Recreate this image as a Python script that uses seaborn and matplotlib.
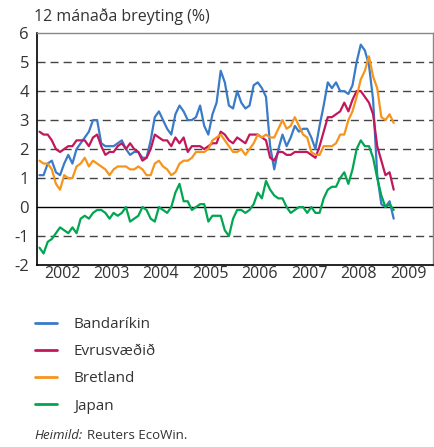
import numpy as np
import pandas as pd
import matplotlib
matplotlib.use("Agg")
import matplotlib.pyplot as plt
import seaborn as sns

# 12 mánaða breyting verðlags, jan 2002 - mars 2009 (lesið af mynd)
bandarikin = [1.1, 1.1, 1.5, 1.6, 1.2, 1.1, 1.5, 1.8, 1.5, 2.0, 2.2, 2.4,
              2.6, 3.0, 3.0, 2.2, 2.1, 2.1, 2.1, 2.2, 2.3, 2.0, 1.8, 1.9,
              1.9, 1.7, 1.7, 2.3, 3.1, 3.3, 3.0, 2.7, 2.5, 3.2, 3.5, 3.3,
              3.0, 3.0, 3.1, 3.5, 2.8, 2.5, 3.2, 3.6, 4.7, 4.3, 3.5, 3.4,
              4.0, 3.6, 3.4, 3.5, 4.2, 4.3, 4.1, 3.8, 2.1, 1.3, 2.0, 2.5,
              2.1, 2.4, 2.8, 2.6, 2.7, 2.7, 2.4, 2.0, 2.8, 3.5, 4.3, 4.1,
              4.3, 4.0, 4.0, 3.9, 4.2, 5.0, 5.6, 5.4, 4.9, 3.7, 1.1, 0.1,
              0.0, 0.2, -0.4]
evrusvaedid = [2.6, 2.5, 2.5, 2.3, 2.0, 1.9, 2.0, 2.1, 2.1, 2.3, 2.3, 2.3,
               2.1, 2.4, 2.5, 2.1, 1.8, 1.9, 1.9, 2.1, 2.2, 2.0, 2.2, 2.0,
               1.9, 1.6, 1.7, 2.0, 2.5, 2.4, 2.3, 2.3, 2.1, 2.4, 2.2, 2.4,
               1.9, 2.1, 2.1, 2.1, 2.0, 2.1, 2.2, 2.2, 2.6, 2.5, 2.3, 2.2,
               2.4, 2.3, 2.2, 2.5, 2.5, 2.5, 2.4, 2.3, 1.7, 1.6, 1.9, 1.9,
               1.8, 1.8, 1.9, 1.9, 1.9, 1.9, 1.8, 1.7, 2.1, 2.6, 3.1, 3.1,
               3.2, 3.3, 3.6, 3.3, 3.7, 4.0, 4.0, 3.8, 3.6, 3.2, 2.1, 1.6,
               1.1, 1.2, 0.6]
bretland = [1.6, 1.5, 1.5, 1.3, 0.8, 0.6, 1.1, 1.0, 1.0, 1.4, 1.5, 1.7,
            1.4, 1.6, 1.5, 1.4, 1.3, 1.1, 1.3, 1.4, 1.4, 1.4, 1.3, 1.3,
            1.4, 1.3, 1.1, 1.1, 1.5, 1.6, 1.4, 1.3, 1.1, 1.2, 1.5, 1.6,
            1.6, 1.7, 1.9, 1.9, 1.9, 2.0, 2.3, 2.4, 2.5, 2.3, 2.1, 1.9,
            1.9, 2.0, 1.8, 2.0, 2.2, 2.5, 2.4, 2.5, 2.4, 2.4, 2.7, 3.0,
            2.7, 2.8, 3.1, 2.8, 2.5, 2.4, 1.9, 1.8, 1.8, 2.1, 2.1, 2.1,
            2.2, 2.5, 2.5, 3.0, 3.3, 3.8, 4.4, 4.7, 5.2, 4.5, 4.1, 3.1,
            3.0, 3.2, 2.9]
japan = [-1.4, -1.6, -1.2, -1.1, -0.9, -0.7, -0.8, -0.9, -0.7, -0.9, -0.4, -0.3,
         -0.4, -0.2, -0.1, -0.1, -0.2, -0.4, -0.2, -0.3, -0.2, 0.0, -0.5, -0.4,
         -0.3, 0.0, -0.1, -0.4, -0.5, 0.0, -0.1, -0.2, 0.0, 0.5, 0.8, 0.2,
         0.2, -0.1, 0.0, 0.1, 0.1, -0.5, -0.3, -0.3, -0.3, -0.8, -1.0, -0.4,
         -0.1, -0.1, -0.2, -0.1, 0.1, 0.5, 0.3, 0.9, 0.6, 0.4, 0.3, 0.3,
         0.0, -0.2, -0.1, 0.0, 0.0, -0.2, 0.0, -0.2, -0.2, 0.3, 0.6, 0.7,
         0.7, 1.0, 1.2, 0.8, 1.3, 2.0, 2.3, 2.1, 2.1, 1.7, 1.0, 0.4,
         0.0, 0.1, -0.1]

svaedi = ["Bandaríkin", "Evrusvæðið", "Bretland", "Japan"]
litir = ["#3a7bc8", "#c2185b", "#f7941d", "#00a651"]
ar = list(range(2002, 2010))

# tími sem brot úr ári, miðjan mánuð
timi = 2002 + (np.arange(len(bandarikin)) + 0.5) / 12

df = pd.concat([
    pd.DataFrame({"timi": timi, "gildi": gogn, "svaedi": nafn})
    for nafn, gogn in zip(svaedi, [bandarikin, evrusvaedid, bretland, japan])
])

sns.set_style("white")
plt.rcParams["font.family"] = ["Open Sans", "DejaVu Sans"]

fig = plt.figure(figsize=(4.35, 4.47), dpi=100)
ax = fig.add_axes([0.086, 0.407, 0.909, 0.519])

for y in [-1, 1, 2, 3, 4, 5]:
    ax.axhline(y, color="#444444", lw=1, linestyle=(0, (5.8, 3.6)), zorder=1)
ax.axhline(0, color="black", lw=1, zorder=1)

sns.lineplot(data=df, x="timi", y="gildi", hue="svaedi", hue_order=svaedi,
             palette=litir, lw=1.6, ax=ax, legend=False, zorder=3)

ax.set_xlim(2002, 2010)
ax.set_ylim(-2, 6)
ax.set_xlabel("")
ax.set_ylabel("")

ax.set_yticks(range(-2, 7))
ax.set_yticklabels([str(v) for v in range(-2, 7)])
ax.tick_params(axis="y", length=0, pad=6, labelsize=12, labelcolor="#333333")

# ártöl milli strika
ax.set_xticks(ar + [2010])
ax.set_xticklabels([])
ax.set_xticks([a + 0.5 for a in ar], minor=True)
ax.set_xticklabels([str(a) for a in ar], minor=True)
ax.tick_params(axis="x", which="major", direction="out", length=6, width=1, color="#333333")
ax.tick_params(axis="x", which="minor", length=0, pad=1, labelsize=11.5, labelcolor="#333333")

for s in ["left", "bottom"]:
    ax.spines[s].set_color("black")
    ax.spines[s].set_linewidth(1.2)
for s in ["top", "right"]:
    ax.spines[s].set_color("#888888")
    ax.spines[s].set_linewidth(1)

fig.text(0.078, 0.963, "12 mánaða breyting (%)", fontsize=11.5, color="#333333",
         va="center", ha="left")

handles = [plt.Line2D([], [], color=c, lw=2) for c in litir]
fig.legend(handles, svaedi, loc="upper left", bbox_to_anchor=(0.080, 0.291),
           frameon=False, fontsize=11, handlelength=1.45, handletextpad=1.1,
           labelspacing=0.8, borderpad=0, borderaxespad=0, labelcolor="#333333")

heimild = fig.text(0.08, 0.012, "Heimild:", fontsize=9.5, style="italic",
                   color="#333333", ha="left", va="bottom")
fig.canvas.draw()
bb = heimild.get_window_extent().transformed(fig.transFigure.inverted())
fig.text(bb.x1 + 0.008, 0.012, "Reuters EcoWin.", fontsize=9.5, color="#333333",
         ha="left", va="bottom")

fig.savefig("out.png", dpi=100)
